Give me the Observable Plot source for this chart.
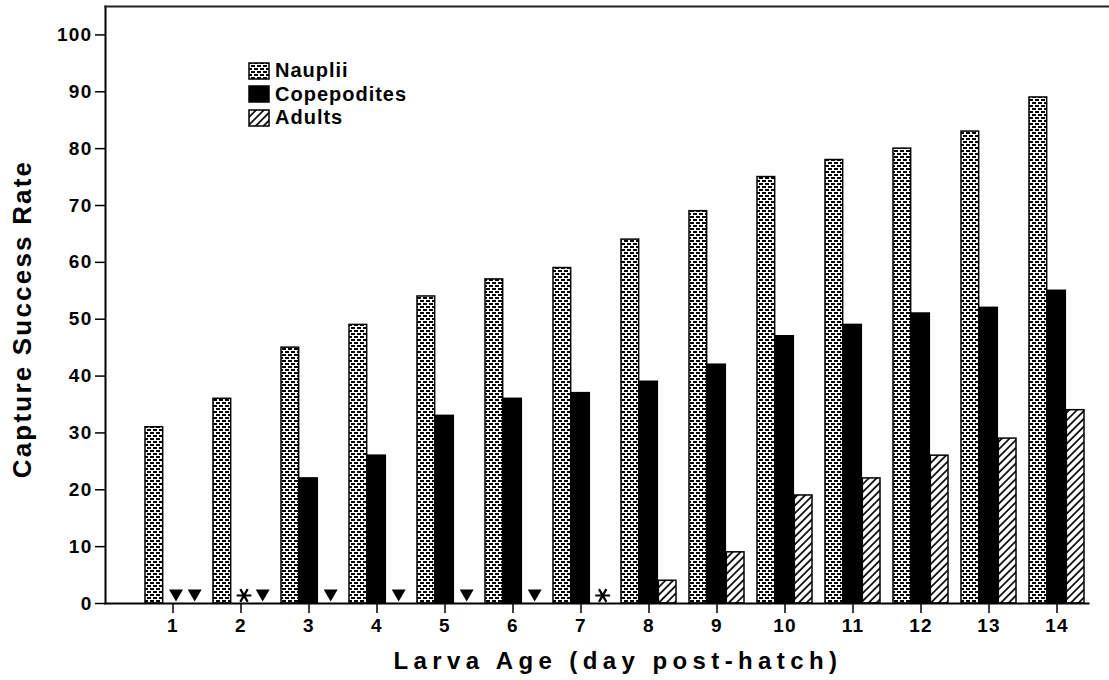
<!DOCTYPE html>
<html><head><meta charset="utf-8">
<script src="https://cdn.jsdelivr.net/npm/d3@7"></script>
<script src="https://cdn.jsdelivr.net/npm/@observablehq/plot@0.6"></script>
<style>
html,body{margin:0;padding:0;background:#fff;}
#wrap{position:relative;width:1109px;height:680px;}
#legend{position:absolute;left:248px;top:59px;font-family:"Liberation Sans",Arial,sans-serif;font-weight:bold;font-size:20px;letter-spacing:1px;color:#000;}
.row{display:flex;align-items:center;height:23.5px;}
.row svg{margin-right:4px;display:block;}
svg text{font-weight:bold;}
</style></head><body><div id="wrap"><div id="legend"></div></div>
<script>
// ---- data ----
const days = [1,2,3,4,5,6,7,8,9,10,11,12,13,14];
const series = ["Nauplii","Copepodites","Adults"];
const nauplii     = [31,36,45,49,54,57,59,64,69,75,78,80,83,89];
const copepodites = [null,null,22,26,33,36,37,39,42,47,49,51,52,55];
const adults      = [null,null,null,null,null,null,null,4,9,19,22,26,29,34];
// zero-value markers drawn at the baseline
const copepoditesMarks = ["triangle","asterisk",null,null,null,null,null,null,null,null,null,null,null,null];
const adultsMarks      = ["triangle","triangle","triangle","triangle","triangle","triangle","asterisk",null,null,null,null,null,null,null];
const yTicks = [0,10,20,30,40,50,60,70,80,90,100];
const xTitle = "Larva Age (day post-hatch)";
const yTitle = "Capture Success Rate";

// ---- tables ----
const valuesBySeries = {Nauplii: nauplii, Copepodites: copepodites, Adults: adults};
const rows = series.flatMap(s => days.map((d, i) => ({day: d, series: s, value: valuesBySeries[s][i]})));
const markRows = [
  ...days.map((d, i) => ({day: d, series: "Copepodites", symbol: copepoditesMarks[i]})),
  ...days.map((d, i) => ({day: d, series: "Adults", symbol: adultsMarks[i]}))
].filter(m => m.symbol);

const fills = {Nauplii: "url(#pat-nauplii)", Copepodites: "black", Adults: "url(#pat-adults)"};

function addPatterns(defs, suffix) {
  const p1 = defs.append("pattern").attr("id", "pat-nauplii" + suffix)
    .attr("patternUnits", "userSpaceOnUse").attr("width", 6).attr("height", 6);
  p1.append("rect").attr("width", 6).attr("height", 6).attr("fill", "white");
  p1.append("rect").attr("x", 0).attr("y", 0).attr("width", 4).attr("height", 2).attr("fill", "black");
  p1.append("rect").attr("x", 3).attr("y", 3).attr("width", 3).attr("height", 2).attr("fill", "black");
  p1.append("rect").attr("x", 0).attr("y", 3).attr("width", 1).attr("height", 2).attr("fill", "black");
  const p2 = defs.append("pattern").attr("id", "pat-adults" + suffix)
    .attr("patternUnits", "userSpaceOnUse").attr("width", 5.5).attr("height", 5.5)
    .attr("patternTransform", "rotate(45)");
  p2.append("rect").attr("width", 5.5).attr("height", 5.5).attr("fill", "white");
  p2.append("line").attr("x1", 1).attr("y1", 0).attr("x2", 1).attr("y2", 5.5)
    .attr("stroke", "black").attr("stroke-width", 1.7);
}

const font = '"Liberation Sans", Arial, sans-serif';
const W = 1109, H = 680, mL = 105, mR = 21, mT = 6, mB = 77;
const xOpts = {type: "band", domain: days, paddingInner: 0.1857, paddingOuter: 0.24, align: 0.909};
// bar width = one third of the day band
const bw = Plot.scale({x: {...xOpts, range: [mL, W - mR]}}).bandwidth / 3;
const slot = {Nauplii: 0, Copepodites: 1, Adults: 2};

const chart = Plot.plot({
  width: W, height: H,
  marginTop: mT, marginBottom: mB, marginLeft: mL, marginRight: mR,
  style: {fontFamily: font, fontSize: "19px", fontWeight: "bold", background: "white", color: "black"},
  x: {...xOpts, label: null},
  y: {domain: [0, 105], label: null},
  marks: [
    ...series.map(s => Plot.barY(rows.filter(r => r.series === s && r.value != null), {
      x: "day", y: "value", fill: fills[s], stroke: "black", strokeWidth: 1.5,
      insetLeft: slot[s] * bw, insetRight: (2 - slot[s]) * bw
    })),
    ...series.map(s => Plot.dot(markRows.filter(m => m.series === s && m.symbol === "triangle"), {
      x: "day", frameAnchor: "bottom", symbol: "triangle", rotate: 180, r: 5.2,
      fill: "black", stroke: "none", dx: (slot[s] - 1) * bw + 3, dy: -10
    })),
    ...series.map(s => Plot.dot(markRows.filter(m => m.series === s && m.symbol === "asterisk"), {
      x: "day", frameAnchor: "bottom", symbol: "asterisk", rotate: 90, r: 7,
      fill: "none", stroke: "black", strokeWidth: 2.2, dx: (slot[s] - 1) * bw + 3, dy: -8
    })),
    Plot.axisX({tickSize: 10, tickPadding: 5, fontSize: 19, fontWeight: "bold", strokeWidth: 1.5, label: null}),
    Plot.axisY({ticks: yTicks, tickSize: 10, tickPadding: 3, fontSize: 19, fontWeight: "bold", strokeWidth: 1.5, label: null}),
    Plot.frame({anchor: "left", strokeWidth: 2}),
    Plot.frame({anchor: "bottom", strokeWidth: 2}),
    Plot.frame({anchor: "top", strokeWidth: 2, stroke: "#222", insetRight: -mR}),
    Plot.text([yTitle], {frameAnchor: "left", textAnchor: "middle", lineAnchor: "middle", rotate: -90, dx: -83, dy: 14, fontSize: 26, fontWeight: "bold"}),
    Plot.text([xTitle], {frameAnchor: "bottom", textAnchor: "middle", lineAnchor: "middle", dx: 21, dy: 58, fontSize: 24, fontWeight: "bold"})
  ]
});

const svg = d3.select(chart);
addPatterns(svg.insert("defs", ":first-child"), "");
svg.selectAll("text").filter(function() { return this.textContent === xTitle; }).attr("letter-spacing", "5.4px");
svg.selectAll("text").filter(function() { return this.textContent === yTitle; }).attr("letter-spacing", "2.2px");
svg.selectAll("text").filter(function() { return /^\d+$/.test(this.textContent.trim()); })
  .style("font-size", "19px").style("letter-spacing", "1.3px");
document.getElementById("wrap").prepend(chart);

// ---- legend ----
const legend = d3.select("#legend");
series.forEach((s, i) => {
  const row = legend.append("div").attr("class", "row");
  const sw = row.append("svg").attr("width", 23).attr("height", 18);
  addPatterns(sw.append("defs"), "-lg" + i);
  const f = fills[s].startsWith("url") ? fills[s].replace(")", "-lg" + i + ")") : fills[s];
  sw.append("rect").attr("x", 1).attr("y", 1).attr("width", 20).attr("height", 16)
    .attr("fill", f).attr("stroke", "black").attr("stroke-width", 1.5);
  row.append("span").text(s);
});
</script></body></html>
